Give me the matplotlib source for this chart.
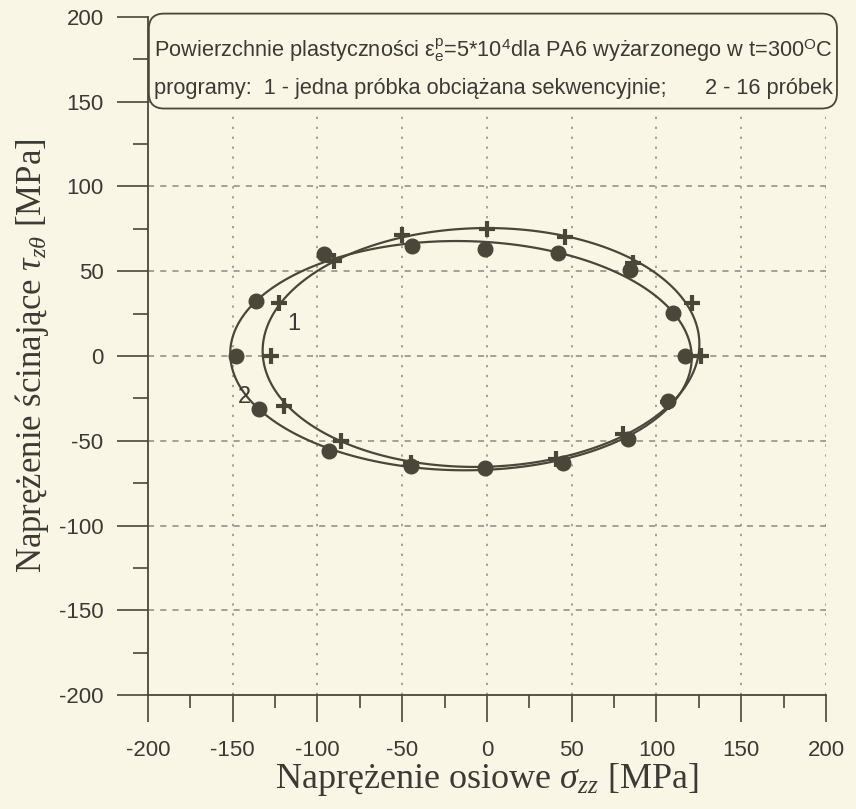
import matplotlib.pyplot as plt
import numpy as np
from matplotlib.patches import FancyBboxPatch
from matplotlib.ticker import MultipleLocator

plt.rcParams['mathtext.fontset'] = 'custom'
plt.rcParams['mathtext.rm'] = 'Liberation Serif'
plt.rcParams['mathtext.it'] = 'Liberation Serif:italic'
plt.rcParams['mathtext.sf'] = 'Liberation Sans'
plt.rcParams['axes.unicode_minus'] = False

# program 1 - jedna próbka (krzyżyki)
sig1 = [126, 121, 86, 46, 0, -50, -90, -123, -127.5, -120, -86, -45, 41, 80.5, 107]
tau1 = [0, 31.5, 55, 70, 75, 71.5, 56, 31.5, 0, -29.5, -50, -63, -61, -46, -27]

# program 2 - 16 próbek (kropki)
sig2 = [117, 110, 84.5, 42, -1, -44, -96, -136, -148, -134.5, -93, -45, -1, 45, 83, 107]
tau2 = [0, 25.6, 51, 61, 63, 65, 60, 32.5, 0, -31.5, -56, -65, -66, -63, -49, -26.5]

ticks = [-200, -150, -100, -50, 0, 50, 100, 150, 200]

bg = '#f9f6e6'
ink = '#4a463a'
txt = '#3c3a34'


def fit_conic(x, y):
    # dopasowanie krzywej stożkowej metodą najmniejszych kwadratów
    x = np.asarray(x, float) / 100.0
    y = np.asarray(y, float) / 100.0
    D = np.column_stack([x * x, x * y, y * y, x, y, np.ones_like(x)])
    _, _, vt = np.linalg.svd(D)
    return vt[-1]


fig = plt.figure(figsize=(8.56, 8.09), dpi=100, facecolor=bg)
ax = fig.add_axes([0.1729, 0.1409, 0.7920, 0.8381])
ax.set_facecolor(bg)
ax.set_xlim(-200, 200)
ax.set_ylim(-200, 200)

gx, gy = np.meshgrid(np.linspace(-199, 199, 800), np.linspace(-199, 199, 800))
for sx, ty in [(sig1, tau1), (sig2, tau2)]:
    c = fit_conic(sx, ty)
    X, Y = gx / 100.0, gy / 100.0
    F = c[0] * X * X + c[1] * X * Y + c[2] * Y * Y + c[3] * X + c[4] * Y + c[5]
    ax.contour(gx, gy, F, levels=[0], colors=ink, linewidths=1.6, zorder=3)

ax.plot(sig2, tau2, 'o', color=ink, ms=10.5, zorder=4)
ax.plot(sig1, tau1, '+', color=ink, ms=11, mew=3, zorder=5)

ax.text(-114, 19, '1', fontsize=17, color=txt, family='Liberation Sans', ha='center', va='center')
ax.text(-143, -24, '2', fontsize=17, color=txt, family='Liberation Sans', ha='center', va='center')

# siatka
for t in ticks[1:]:
    ax.plot([t, t], [-200, 145], color='#8c8a80', lw=1.1, ls=(0, (1.5, 5)), zorder=1)
for t in ticks[1:-1]:
    ax.axhline(t, color='#8c8a80', lw=1.1, ls=(0, (4, 4)), zorder=1)

for s in ['top', 'right']:
    ax.spines[s].set_visible(False)
for s in ['left', 'bottom']:
    ax.spines[s].set_color(ink)
    ax.spines[s].set_linewidth(1.3)

ax.set_xticks(ticks)
ax.set_yticks(ticks)
ax.xaxis.set_minor_locator(MultipleLocator(25))
ax.yaxis.set_minor_locator(MultipleLocator(25))
ax.tick_params(axis='x', which='major', length=19.5, width=1.2, color=ink, direction='out', pad=13)
ax.tick_params(axis='x', which='minor', length=9, width=1.2, color=ink, direction='out')
ax.tick_params(axis='y', which='major', length=22, width=1.2, color=ink, direction='out', pad=10)
ax.tick_params(axis='y', which='minor', length=11, width=1.2, color=ink, direction='out')
for lab in ax.get_xticklabels() + ax.get_yticklabels():
    lab.set_fontfamily('Liberation Sans')
    lab.set_fontsize(16)
    lab.set_color(txt)

ax.set_xlabel(r'Naprężenie osiowe $\sigma_{zz}$ [MPa]', fontsize=26, family='Liberation Serif',
              color=txt, labelpad=0)
ax.set_ylabel(r'Naprężenie ścinające $\tau_{z\theta}$ [MPa]', fontsize=25, family='Liberation Serif',
              color=txt, labelpad=6)

# ramka z opisem
box = FancyBboxPatch((-199.5, 146), 406, 56, boxstyle='round,pad=0,rounding_size=9',
                     facecolor=bg, edgecolor=ink, lw=1.3, clip_on=False, zorder=6)
ax.add_patch(box)
ax.text(-196.5, 180, r'Powierzchnie plastyczności $\mathsf{\varepsilon}_{\mathsf{e}}^{\mathsf{p}}$=5*10$^{\mathsf{4}}$dla PA6 wyżarzonego w t=300$^{\mathsf{O}}$C',
        fontsize=15.7, family='Liberation Sans', color=txt, va='center', ha='left', zorder=7,
        clip_on=False)
ax.text(-196.5, 158, 'programy:  1 - jedna próbka obciążana sekwencyjnie;', fontsize=15.7,
        family='Liberation Sans', color=txt, va='center', ha='left', zorder=7, clip_on=False)
ax.text(204, 158, '2 - 16 próbek', fontsize=15.7, family='Liberation Sans', color=txt,
        va='center', ha='right', zorder=7, clip_on=False)

fig.savefig('out.png', dpi=100, facecolor=bg)
